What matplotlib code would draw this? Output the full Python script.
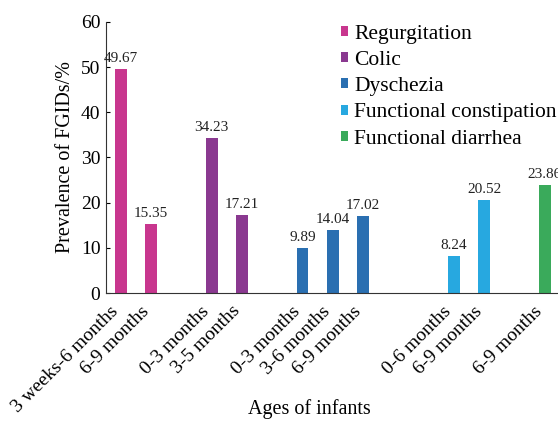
import numpy as np
import matplotlib.pyplot as plt
import matplotlib.transforms as mtransforms

# данные
groups = ["Regurgitation", "Colic", "Dyschezia", "Functional constipation", "Functional diarrhea"]
colors = ["#C8368E", "#8A3990", "#2A6FB1", "#27A8E0", "#3AAA5B"]
ages = [
    ["3 weeks-6 months", "6-9 months"],
    ["0-3 months", "3-5 months"],
    ["0-3 months", "3-6 months", "6-9 months"],
    ["0-6 months", "6-9 months"],
    ["6-9 months"],
]
values = [
    [49.67, 15.35],
    [34.23, 17.21],
    [9.89, 14.04, 17.02],
    [8.24, 20.52],
    [23.86],
]
gaps = [0, 1, 1, 2, 1]  # пустые места между группами

plt.rcParams['font.family'] = ['Liberation Serif', 'DejaVu Serif']

fig = plt.figure(figsize=(5.58, 4.21), dpi=100)
ax = fig.add_axes([0.19, 0.304, 0.808, 0.644])

pos = 0
ticks = []
labels = []
for g, col, a, v, gap in zip(groups, colors, ages, values, gaps):
    pos += gap
    x = np.arange(pos, pos + len(v))
    ax.bar(x, v, width=0.39, color=col, label=g)
    for xi, vi in zip(x, v):
        ax.text(xi, vi + 0.9, f"{vi:.2f}", ha='center', va='bottom', fontsize=11, color='#222222')
    ticks += list(x)
    labels += a
    pos += len(v)

ax.set_xlim(-0.49, 14.4)
ax.set_ylim(0, 60)
ax.set_yticks(range(0, 61, 10))
ax.set_xticks(ticks)
ax.set_xticklabels(labels, rotation=45, ha='right', rotation_mode='anchor', fontsize=14)
ax.tick_params(axis='x', length=0, pad=4)
ax.tick_params(axis='y', direction='in', length=3, labelsize=14, pad=4)
# сдвигаем подписи влево и вниз (после tick_params, иначе сбросится)
offset = mtransforms.ScaledTranslation(-11 / 100, -4 / 100, fig.dpi_scale_trans)
for lbl in ax.get_xticklabels():
    lbl.set_transform(lbl.get_transform() + offset)
ax.spines['top'].set_visible(False)
ax.spines['right'].set_visible(False)
ax.spines['left'].set_color('#333333')
ax.spines['bottom'].set_color('#333333')

ax.set_ylabel("Prevalence of FGIDs/%", fontsize=14.5)
ax.set_xlabel("Ages of infants", fontsize=14.5)
ax.xaxis.set_label_coords(0.45, -0.39)

ax.legend(loc='upper left', bbox_to_anchor=(0.497, 1.03), frameon=False, fontsize=15.5,
          borderpad=0, handlelength=0.33, handleheight=0.33, handletextpad=0.3,
          labelspacing=0.34)

fig.savefig("out.png", dpi=100)
